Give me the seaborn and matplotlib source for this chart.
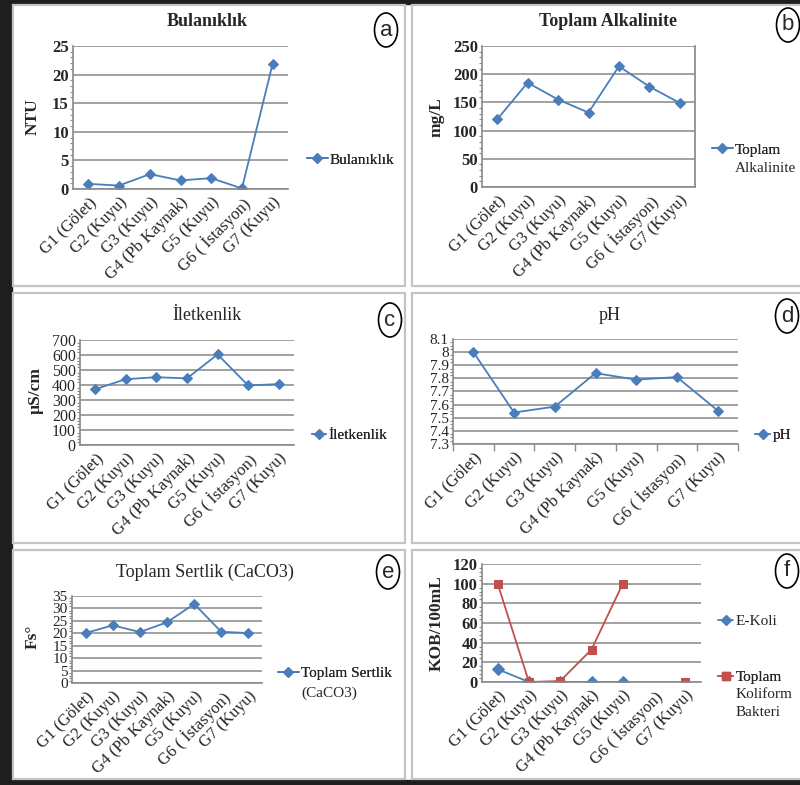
import numpy as np
import pandas as pd
import seaborn as sns
import matplotlib.pyplot as plt
from matplotlib.lines import Line2D
from matplotlib.patches import Rectangle, Ellipse
from matplotlib.ticker import MultipleLocator, AutoMinorLocator, FuncFormatter

sns.set_theme(style="white")
plt.rcParams["font.family"] = ["Liberation Serif", "DejaVu Serif"]

# data
stations = ["G1 (Gölet)", "G2 (Kuyu)", "G3 (Kuyu)", "G4 (Pb Kaynak)",
            "G5 (Kuyu)", "G6 ( İstasyon)", "G7 (Kuyu)"]
bulaniklik = [0.9, 0.6, 2.6, 1.5, 1.9, 0.1, 21.9]
alkalinite = [120, 185, 155, 132, 214, 178, 149]
iletkenlik = [372, 439, 452, 444, 604, 397, 406]
ph = [8.0, 7.54, 7.585, 7.84, 7.79, 7.81, 7.555]
sertlik = [20.1, 23.2, 20.5, 24.4, 31.8, 20.6, 20.1]
ekoli = [13, 0, 0, 0, 0, np.nan, np.nan]
koliform = [100, 0, 1, 33, 100, np.nan, 0]

BLUE = "#4a7ebb"
RED = "#c0504d"
GRID = "#9a9a9a"
LEG_FS = 11
W, H = 800, 785

fig = plt.figure(figsize=(W / 100, H / 100), dpi=100)


def fx(x):
    return x / W


def fy(y):
    return 1 - y / H


def rect(l, t, r, b):
    return [fx(l), fy(b), (r - l) / W, (b - t) / H]


# outer dark frame and panel boxes (behind the axes)
for l, t, r, b in [(0, 0, 12, H), (0, 0, W, 4), (0, 780, W, H)]:
    fig.patches.append(Rectangle((fx(l), fy(b)), (r - l) / W, (b - t) / H,
                                 transform=fig.transFigure, color="#1e1e1e", zorder=-2))
for l, t, r, b in [(13, 5, 405, 286), (412, 5, 805, 286),
                   (13, 293, 405, 543), (412, 293, 805, 543),
                   (13, 550, 405, 779), (412, 550, 805, 779)]:
    fig.patches.append(Rectangle((fx(l), fy(b)), (r - l) / W, (b - t) / H,
                                 transform=fig.transFigure, facecolor="white",
                                 edgecolor="#c4c4c4", lw=1.6, zorder=-1))

x = np.arange(len(stations))


def style_axes(ax, lo, hi, step, bold, fmt=None, ysize=12):
    ax.patch.set_alpha(0)
    ax.set_xlim(-0.5, len(stations) - 0.5)
    ax.set_ylim(lo, hi)
    ax.yaxis.set_major_locator(MultipleLocator(step))
    ax.yaxis.set_minor_locator(AutoMinorLocator(5))
    if fmt:
        ax.yaxis.set_major_formatter(FuncFormatter(fmt))
    ax.grid(axis="y", color=GRID, lw=1.3)
    ax.grid(axis="x", visible=False)
    for s in ["top", "right"]:
        ax.spines[s].set_visible(False)
    for s in ["left", "bottom"]:
        ax.spines[s].set_color("#8a8a8a")
        ax.spines[s].set_linewidth(1.2)
    ax.tick_params(axis="y", which="major", length=4, width=1, color="#8a8a8a",
                   direction="inout", labelsize=ysize, pad=1)
    ax.tick_params(axis="y", which="minor", length=2, width=0.8, color="#8a8a8a",
                   direction="out", left=True)
    ax.set_xticks(x, stations, rotation=45, ha="right", rotation_mode="anchor", fontsize=12)
    ax.tick_params(axis="x", length=0, pad=4)
    for t in ax.get_yticklabels():
        t.set_fontweight("bold" if bold else "normal")
    ax.set_xlabel("")
    ax.set_ylabel("")


def fix_markers(ax):
    for ln in ax.lines:
        ln.set_markeredgecolor(ln.get_color())


extra_lines = []


def add_legend(ax, handles, labels, hx, hy, hl=1.35, more=(), step=18):
    leg = ax.legend(handles, labels, loc="center left",
                    bbox_to_anchor=(fx(hx), fy(hy)), bbox_transform=fig.transFigure,
                    frameon=False, borderpad=0, borderaxespad=0, handlelength=hl,
                    handletextpad=0.15, prop={"size": LEG_FS})
    ax.add_artist(leg)
    if more:
        extra_lines.append((leg, hy, step, more))
    return leg


def single_panel(box, values, title, tx, ty, ylabel, ylx, yly, lo, hi, step, bold,
                 leg_label, hx, hy, hl=1.35, more=(), lstep=18, fmt=None,
                 title_bold=False, ysize=12):
    ax = fig.add_axes(rect(*box))
    df = pd.DataFrame({"station": x, "value": values})
    sns.lineplot(data=df, x="station", y="value", ax=ax, color=BLUE, marker="D",
                 markersize=5, lw=1.3, label=leg_label)
    fix_markers(ax)
    style_axes(ax, lo, hi, step, bold, fmt, ysize)
    h, lab = ax.get_legend_handles_labels()
    if ax.get_legend():
        ax.get_legend().remove()
    add_legend(ax, h, lab, hx, hy, hl, more, lstep)
    fig.text(fx(tx), fy(ty), title, ha="center", va="center", fontsize=13,
             fontweight="bold" if title_bold else "normal")
    if ylabel:
        fig.text(fx(ylx), fy(yly), ylabel, rotation=90, ha="center", va="center",
                 fontsize=12.5, fontweight="bold")
    return ax


# a
single_panel((73, 46, 288, 189), bulaniklik, "Bulanıklık", 207, 22, "NTU", 33, 117,
             0, 25, 5, True, "Bulanıklık", 307, 160, title_bold=True)
# b
axb = single_panel((482, 46, 695, 187), alkalinite, "Toplam Alkalinite", 608, 22, "mg/L", 437, 117,
                   0, 250, 50, True, "Toplam", 712, 150, more=["Alkalinite"], title_bold=True)
axb.spines["right"].set_visible(True)
axb.spines["right"].set_color("#8a8a8a")
# c
single_panel((80, 340, 294, 445), iletkenlik, "İletkenlik", 207, 315, "µS/cm", 36, 390,
             0, 700, 100, False, "İletkenlik", 312, 435, hl=0.9, ysize=11.5)
# d
axd = single_panel((453, 339, 738, 444), ph, "pH", 610, 315, None, 0, 0,
                   7.3, 8.1, 0.1, False, "pH", 755, 435, hl=1.0, ysize=11,
                   fmt=lambda v, p: f"{v:.1f}".rstrip("0").rstrip("."))
axd.yaxis.set_minor_locator(AutoMinorLocator(4))
axd.set_xticks(np.arange(-0.5, len(stations)), minor=True)
axd.tick_params(axis="x", which="minor", length=5, color="#8a8a8a", direction="out", bottom=True)
# e
single_panel((72, 596, 262, 683), sertlik, "Toplam Sertlik (CaCO3)", 205, 572, "Fs°", 33, 637,
             0, 35, 5, False, "Toplam Sertlik", 278, 673, more=["(CaCO3)"], lstep=20, ysize=11)

# f: two series, gaps where no measurement
axf = fig.add_axes(rect(482, 564, 701, 682))
rows = []
for name, vals in [("E-Koli", ekoli), ("Toplam Koliform Bakteri", koliform)]:
    seg = np.cumsum(np.isnan(vals))
    for i, v in enumerate(vals):
        if not np.isnan(v):
            rows.append({"station": i, "value": v, "series": name, "seg": int(seg[i])})
dff = pd.DataFrame(rows)
sns.lineplot(data=dff, x="station", y="value", hue="series", style="series", units="seg",
             estimator=None, palette={"E-Koli": BLUE, "Toplam Koliform Bakteri": RED},
             markers={"E-Koli": "D", "Toplam Koliform Bakteri": "s"}, dashes=False,
             markersize=6, lw=1.3, ax=axf, legend=False)
fix_markers(axf)
style_axes(axf, 0, 120, 20, True)
add_legend(axf, [Line2D([], [], color=BLUE, marker="D", markersize=5, lw=1.3)], ["E-Koli"],
           718, 621, hl=1.0)
add_legend(axf, [Line2D([], [], color=RED, marker="s", markersize=6, lw=1.3)], ["Toplam"],
           718, 677, hl=1.0, more=["Koliform", "Bakteri"])
fig.text(fx(437), fy(623), "KOB/100mL", rotation=90, ha="center", va="center",
         fontsize=12.5, fontweight="bold")

# panel letters
for letter, cx, cy in [("a", 386, 30), ("b", 788, 25), ("c", 390, 320),
                       ("d", 787, 316), ("e", 388, 572), ("f", 787, 571)]:
    fig.patches.append(Ellipse((fx(cx), fy(cy)), 23 / W, 34 / H, transform=fig.transFigure,
                               facecolor="white", edgecolor="black", lw=1.2, zorder=3))
    fig.text(fx(cx), fy(cy), letter, ha="center", va="center", fontsize=16,
             family="Liberation Sans", zorder=4)

# continuation lines of wrapped legend labels, under the first line
fig.canvas.draw()
for leg, hy, step, more in extra_lines:
    bb = leg.get_texts()[0].get_window_extent()
    for k, line in enumerate(more):
        fig.text(bb.x0 / fig.bbox.width, fy(hy + step * (k + 1)), line, ha="left",
                 va="center", fontsize=LEG_FS)

fig.savefig("out.png", dpi=100)
